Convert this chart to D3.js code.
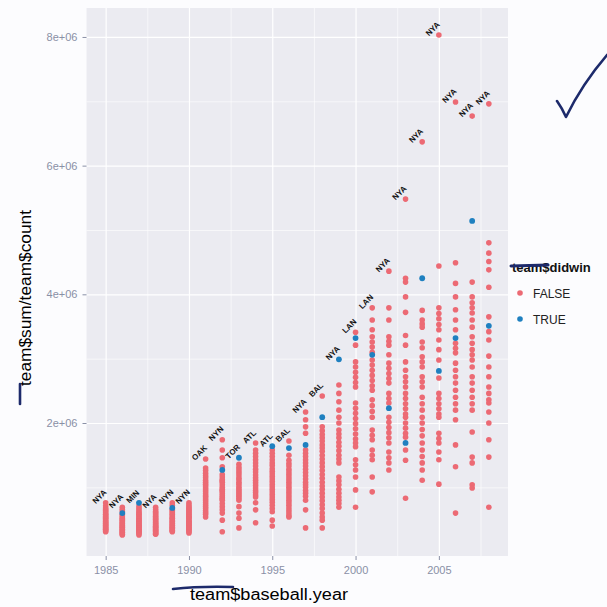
<!DOCTYPE html>
<html>
<head>
<meta charset="utf-8">
<script src="https://cdn.jsdelivr.net/npm/d3@7"></script>
<style>
  body { margin: 0; background: #fcfcfe; }
  svg { display: block; font-family: "Liberation Sans", Arial, sans-serif; }
</style>
</head>
<body>
<svg id="chart" width="607" height="607"></svg>
<script>
// average salary per team (millions), world series winner kept apart
const years = [1985, 1986, 1987, 1988, 1989, 1990, 1991, 1992, 1993, 1994, 1995, 1996,
  1997, 1998, 1999, 2000, 2001, 2002, 2003, 2004, 2005, 2006, 2007, 2008];

const s1985 = [0.76, 0.71, 0.68, 0.66, 0.64, 0.62, 0.60, 0.58, 0.57, 0.55, 0.53, 0.52, 0.50, 0.48, 0.47, 0.45, 0.44, 0.42, 0.41, 0.39, 0.38, 0.36, 0.35, 0.34, 0.32, 0.31];
const s1986 = [0.69, 0.66, 0.63, 0.58, 0.56, 0.54, 0.52, 0.50, 0.49, 0.47, 0.45, 0.44, 0.42, 0.41, 0.39, 0.38, 0.37, 0.35, 0.34, 0.33, 0.31, 0.30, 0.29, 0.27, 0.26];
const s1987 = [0.71, 0.68, 0.65, 0.62, 0.60, 0.58, 0.56, 0.54, 0.52, 0.50, 0.48, 0.47, 0.45, 0.43, 0.42, 0.40, 0.39, 0.37, 0.36, 0.34, 0.33, 0.31, 0.30, 0.28, 0.26];
const s1988 = [0.69, 0.66, 0.63, 0.61, 0.59, 0.57, 0.55, 0.53, 0.51, 0.50, 0.48, 0.46, 0.45, 0.43, 0.42, 0.40, 0.39, 0.38, 0.36, 0.35, 0.33, 0.32, 0.31, 0.29, 0.28, 0.27];
const s1989 = [0.76, 0.72, 0.66, 0.64, 0.62, 0.60, 0.58, 0.56, 0.54, 0.52, 0.51, 0.49, 0.47, 0.46, 0.44, 0.43, 0.41, 0.40, 0.38, 0.37, 0.36, 0.34, 0.33, 0.32, 0.31];
const s1990 = [0.76, 0.73, 0.70, 0.68, 0.66, 0.64, 0.62, 0.60, 0.58, 0.56, 0.54, 0.53, 0.51, 0.49, 0.47, 0.46, 0.44, 0.43, 0.41, 0.40, 0.38, 0.36, 0.35, 0.33, 0.31, 0.29];
const s1991 = [1.44, 1.30, 1.26, 1.22, 1.18, 1.15, 1.11, 1.08, 1.05, 1.02, 0.99, 0.96, 0.93, 0.90, 0.87, 0.85, 0.82, 0.79, 0.76, 0.73, 0.70, 0.67, 0.64, 0.61, 0.58, 0.54];
const s1992 = [1.74, 1.58, 1.46, 1.32, 1.20, 1.16, 1.12, 1.10, 1.08, 1.04, 1.00, 0.97, 0.95, 0.93, 0.90, 0.87, 0.84, 0.82, 0.80, 0.75, 0.70, 0.65, 0.60, 0.49, 0.31];
const s1993 = [1.36, 1.31, 1.27, 1.23, 1.19, 1.15, 1.12, 1.08, 1.05, 1.01, 0.98, 0.95, 0.92, 0.89, 0.86, 0.83, 0.80, 0.70, 0.60, 0.52, 0.37];
const s1994 = [1.69, 1.58, 1.53, 1.48, 1.43, 1.38, 1.33, 1.28, 1.24, 1.19, 1.15, 1.11, 1.07, 1.03, 0.99, 0.95, 0.92, 0.88, 0.85, 0.76, 0.65, 0.45];
const s1995 = [1.58, 1.53, 1.48, 1.43, 1.38, 1.34, 1.29, 1.25, 1.21, 1.17, 1.13, 1.09, 1.05, 1.01, 0.97, 0.93, 0.89, 0.85, 0.81, 0.77, 0.72, 0.67, 0.62, 0.49, 0.40];
const s1996 = [1.72, 1.50, 1.42, 1.37, 1.33, 1.28, 1.24, 1.20, 1.16, 1.12, 1.08, 1.04, 1.00, 0.96, 0.92, 0.88, 0.84, 0.80, 0.76, 0.72, 0.68, 0.64, 0.60, 0.56, 0.54];
const s1997 = [2.17, 2.05, 1.94, 1.84, 1.58, 1.53, 1.48, 1.43, 1.38, 1.33, 1.28, 1.23, 1.18, 1.13, 1.08, 1.04, 1.00, 0.95, 0.91, 0.86, 0.80, 0.65, 0.37];
const s1998 = [2.42, 1.94, 1.88, 1.82, 1.77, 1.72, 1.66, 1.61, 1.56, 1.50, 1.44, 1.38, 1.32, 1.26, 1.20, 1.14, 1.08, 1.02, 0.97, 0.91, 0.85, 0.79, 0.73, 0.67, 0.60, 0.54, 0.49, 0.37];
const s1999 = [2.59, 2.46, 2.33, 2.20, 2.09, 2.00, 1.89, 1.83, 1.77, 1.70, 1.64, 1.57, 1.50, 1.44, 1.38, 1.16, 1.10, 1.04, 0.97, 0.91, 0.85, 0.80, 0.75, 0.69];
const s2000 = [3.41, 3.21, 2.95, 2.87, 2.79, 2.71, 2.63, 2.56, 2.31, 2.23, 2.15, 2.07, 1.99, 1.91, 1.83, 1.75, 1.69, 1.63, 1.43, 1.35, 1.27, 1.16, 0.96, 0.69];
const s2001 = [3.79, 3.60, 3.45, 3.34, 3.26, 3.18, 3.10, 2.98, 2.90, 2.82, 2.74, 2.66, 2.58, 2.51, 2.36, 2.27, 2.18, 2.09, 1.89, 1.81, 1.74, 1.58, 1.50, 1.43, 1.16, 0.93];
const s2002 = [4.36, 3.79, 3.60, 3.34, 3.27, 3.21, 3.06, 2.93, 2.85, 2.77, 2.69, 2.62, 2.46, 2.38, 2.31, 2.09, 2.01, 1.93, 1.85, 1.77, 1.69, 1.55, 1.46, 1.38, 1.27];
const s2003 = [5.48, 4.25, 4.19, 3.96, 3.72, 3.36, 3.21, 2.95, 2.82, 2.72, 2.64, 2.56, 2.46, 2.38, 2.30, 2.22, 2.14, 2.09, 2.00, 1.92, 1.84, 1.78, 1.58, 1.42, 0.83];
const s2004 = [6.37, 3.75, 3.60, 3.54, 3.49, 3.26, 3.17, 3.03, 2.95, 2.87, 2.72, 2.64, 2.56, 2.40, 2.30, 2.20, 2.09, 2.00, 1.90, 1.80, 1.69, 1.58, 1.48, 1.38, 1.27, 1.11];
const s2005 = [8.03, 4.44, 3.79, 3.70, 3.62, 3.53, 3.45, 3.29, 3.14, 2.98, 2.70, 2.46, 2.38, 2.30, 2.22, 2.14, 2.09, 1.84, 1.76, 1.69, 1.55, 1.43, 1.05];
const s2006 = [6.99, 4.49, 4.17, 3.96, 3.76, 3.60, 3.45, 3.24, 3.16, 3.09, 2.93, 2.82, 2.72, 2.62, 2.51, 2.40, 2.30, 2.20, 2.05, 1.66, 1.32, 0.60];
const s2007 = [6.77, 4.19, 3.96, 3.87, 3.79, 3.71, 3.60, 3.49, 3.34, 3.24, 3.14, 3.06, 2.98, 2.87, 2.72, 2.62, 2.51, 2.40, 2.30, 2.20, 1.86, 1.47, 1.38, 1.04, 0.99];
const s2008 = [6.96, 4.80, 4.64, 4.51, 4.38, 4.11, 3.65, 3.42, 3.29, 3.04, 2.87, 2.72, 2.56, 2.46, 2.36, 2.31, 2.17, 2.00, 1.74, 1.47, 0.69];

const salaries = [s1985, s1986, s1987, s1988, s1989, s1990, s1991, s1992, s1993, s1994, s1995, s1996,
  s1997, s1998, s1999, s2000, s2001, s2002, s2003, s2004, s2005, s2006, s2007, s2008];

// winner's average salary per year (null where no blue dot shows)
const winnerSalary = [null, 0.60, 0.76, null, 0.68, null, null, 1.27, 1.46, null, 1.64, 1.61,
  1.66, 2.09, 2.99, 3.32, 3.06, 2.23, 1.69, 4.25, 2.81, 3.32, 5.14, 3.51];

const leaderTeam = ["NYA", "NYA", "MIN", "NYA", "NYN", "NYN", "OAK", "NYN", "TOR", "ATL", "ATL", "BAL",
  "NYA", "BAL", "NYA", "LAN", "LAN", "NYA", "NYA", "NYA", "NYA", "NYA", "NYA", "NYA"];

const xTicks = [1985, 1990, 1995, 2000, 2005];
const xMinor = [1987.5, 1992.5, 1997.5, 2002.5, 2007.5];
const yTicks = [2e6, 4e6, 6e6, 8e6];
const yTickLabels = ["2e+06", "4e+06", "6e+06", "8e+06"];
const yMinor = [1e6, 3e6, 5e6, 7e6];
const legendKeys = ["FALSE", "TRUE"];

const UNIT = 1e6;
const colors = { FALSE: "#ec6a74", TRUE: "#1f80c0" };
const tickGrey = "#8a90a6";

const panel = { left: 86.5, right: 508, top: 8, bottom: 556 };

const svg = d3.select("#chart");

const x = d3.scaleLinear().domain([1983.85, 2009.15]).range([panel.left, panel.right]);
const y = d3.scaleLinear().domain([-0.067e6, 8.45e6]).range([panel.bottom, panel.top]);

// panel background
svg.append("rect")
  .attr("x", panel.left).attr("y", panel.top)
  .attr("width", panel.right - panel.left).attr("height", panel.bottom - panel.top)
  .attr("fill", "#ebebf1");

const pw = panel.right - panel.left;
const ph = panel.bottom - panel.top;

function grid(axis, at, width) {
  const g = svg.append("g").attr("transform", at).call(axis);
  g.select(".domain").remove();
  g.selectAll("line").attr("stroke", "#ffffff").attr("stroke-width", width);
  g.selectAll("text").remove();
}

grid(d3.axisLeft(y).tickValues(yMinor).tickSize(-pw), `translate(${panel.left},0)`, 0.6);
grid(d3.axisBottom(x).tickValues(xMinor).tickSize(-ph), `translate(0,${panel.bottom})`, 0.6);
grid(d3.axisLeft(y).tickValues(yTicks).tickSize(-pw), `translate(${panel.left},0)`, 1.2);
grid(d3.axisBottom(x).tickValues(xTicks).tickSize(-ph), `translate(0,${panel.bottom})`, 1.2);

// points
const points = [];
const winners = [];
years.forEach((year, i) => {
  salaries[i].forEach((v) => points.push({ year, value: v * UNIT }));
  if (winnerSalary[i] !== null) winners.push({ year, value: winnerSalary[i] * UNIT });
});

svg.append("g").selectAll("circle")
  .data(points)
  .join("circle")
  .attr("cx", (d) => x(d.year))
  .attr("cy", (d) => y(d.value))
  .attr("r", 2.8)
  .attr("fill", colors.FALSE);

svg.append("g").selectAll("circle")
  .data(winners)
  .join("circle")
  .attr("cx", (d) => x(d.year))
  .attr("cy", (d) => y(d.value))
  .attr("r", 2.9)
  .attr("fill", colors.TRUE);

// team label at the top point of each year
const leaders = years.map((year, i) => {
  const top = Math.max(d3.max(salaries[i]), winnerSalary[i] || 0);
  return { year, value: top * UNIT, team: leaderTeam[i] };
});

svg.append("g").selectAll("text")
  .data(leaders)
  .join("text")
  .attr("transform", (d) => `translate(${x(d.year)},${y(d.value)}) rotate(-45)`)
  .attr("y", -6)
  .attr("text-anchor", "middle")
  .attr("font-size", 8)
  .attr("font-weight", "bold")
  .attr("fill", "#111")
  .text((d) => d.team);

// axes
const xAxis = svg.append("g")
  .attr("transform", `translate(0,${panel.bottom})`)
  .call(d3.axisBottom(x).tickValues(xTicks).tickFormat(d3.format("d")).tickSize(4).tickPadding(6));
const yAxis = svg.append("g")
  .attr("transform", `translate(${panel.left},0)`)
  .call(d3.axisLeft(y).tickValues(yTicks).tickFormat((d, i) => yTickLabels[i]).tickSize(4).tickPadding(5));

[xAxis, yAxis].forEach((g) => {
  g.select(".domain").remove();
  g.selectAll("line").attr("stroke", tickGrey);
  g.selectAll("text").attr("fill", tickGrey).attr("font-size", 11).attr("font-family", "Liberation Sans, Arial, sans-serif");
});

// axis titles
svg.append("text")
  .attr("x", 269).attr("y", 600)
  .attr("text-anchor", "middle")
  .attr("font-size", 16)
  .attr("textLength", 158)
  .attr("lengthAdjust", "spacingAndGlyphs")
  .attr("fill", "#000")
  .text("team$baseball.year");

svg.append("text")
  .attr("transform", "translate(31,298) rotate(-90)")
  .attr("text-anchor", "middle")
  .attr("font-size", 16)
  .attr("textLength", 176)
  .attr("lengthAdjust", "spacingAndGlyphs")
  .attr("fill", "#000")
  .text("team$sum/team$count");

// legend
const legend = svg.append("g");
legend.append("text")
  .attr("x", 512).attr("y", 272)
  .attr("font-size", 13)
  .attr("font-weight", "bold")
  .attr("fill", "#111")
  .text("team$didwin");

legend.selectAll("g.key")
  .data(legendKeys)
  .join("g")
  .attr("class", "key")
  .attr("transform", (d, i) => `translate(520,${293 + i * 26})`)
  .each(function (d) {
    const k = d3.select(this);
    k.append("circle").attr("r", 2.8).attr("fill", colors[d]);
    k.append("text").attr("x", 13).attr("y", 4.5)
      .attr("font-size", 12).attr("fill", "#222").text(d);
  });

// pen marks on the printout
const ink = svg.append("g").attr("fill", "none").attr("stroke", "#1d2a6b")
  .attr("stroke-linecap", "round").attr("stroke-linejoin", "round");
ink.append("path").attr("d", "M557,101 Q562,108 566,117 Q582,84 607,55").attr("stroke-width", 2.6);
ink.append("path").attr("d", "M173,589 Q200,586 233,587").attr("stroke-width", 2.6);
ink.append("path").attr("d", "M20,384 L20,404").attr("stroke-width", 2.6);
ink.append("path").attr("d", "M511,266 L548,265").attr("stroke-width", 3);
</script>
</body>
</html>
